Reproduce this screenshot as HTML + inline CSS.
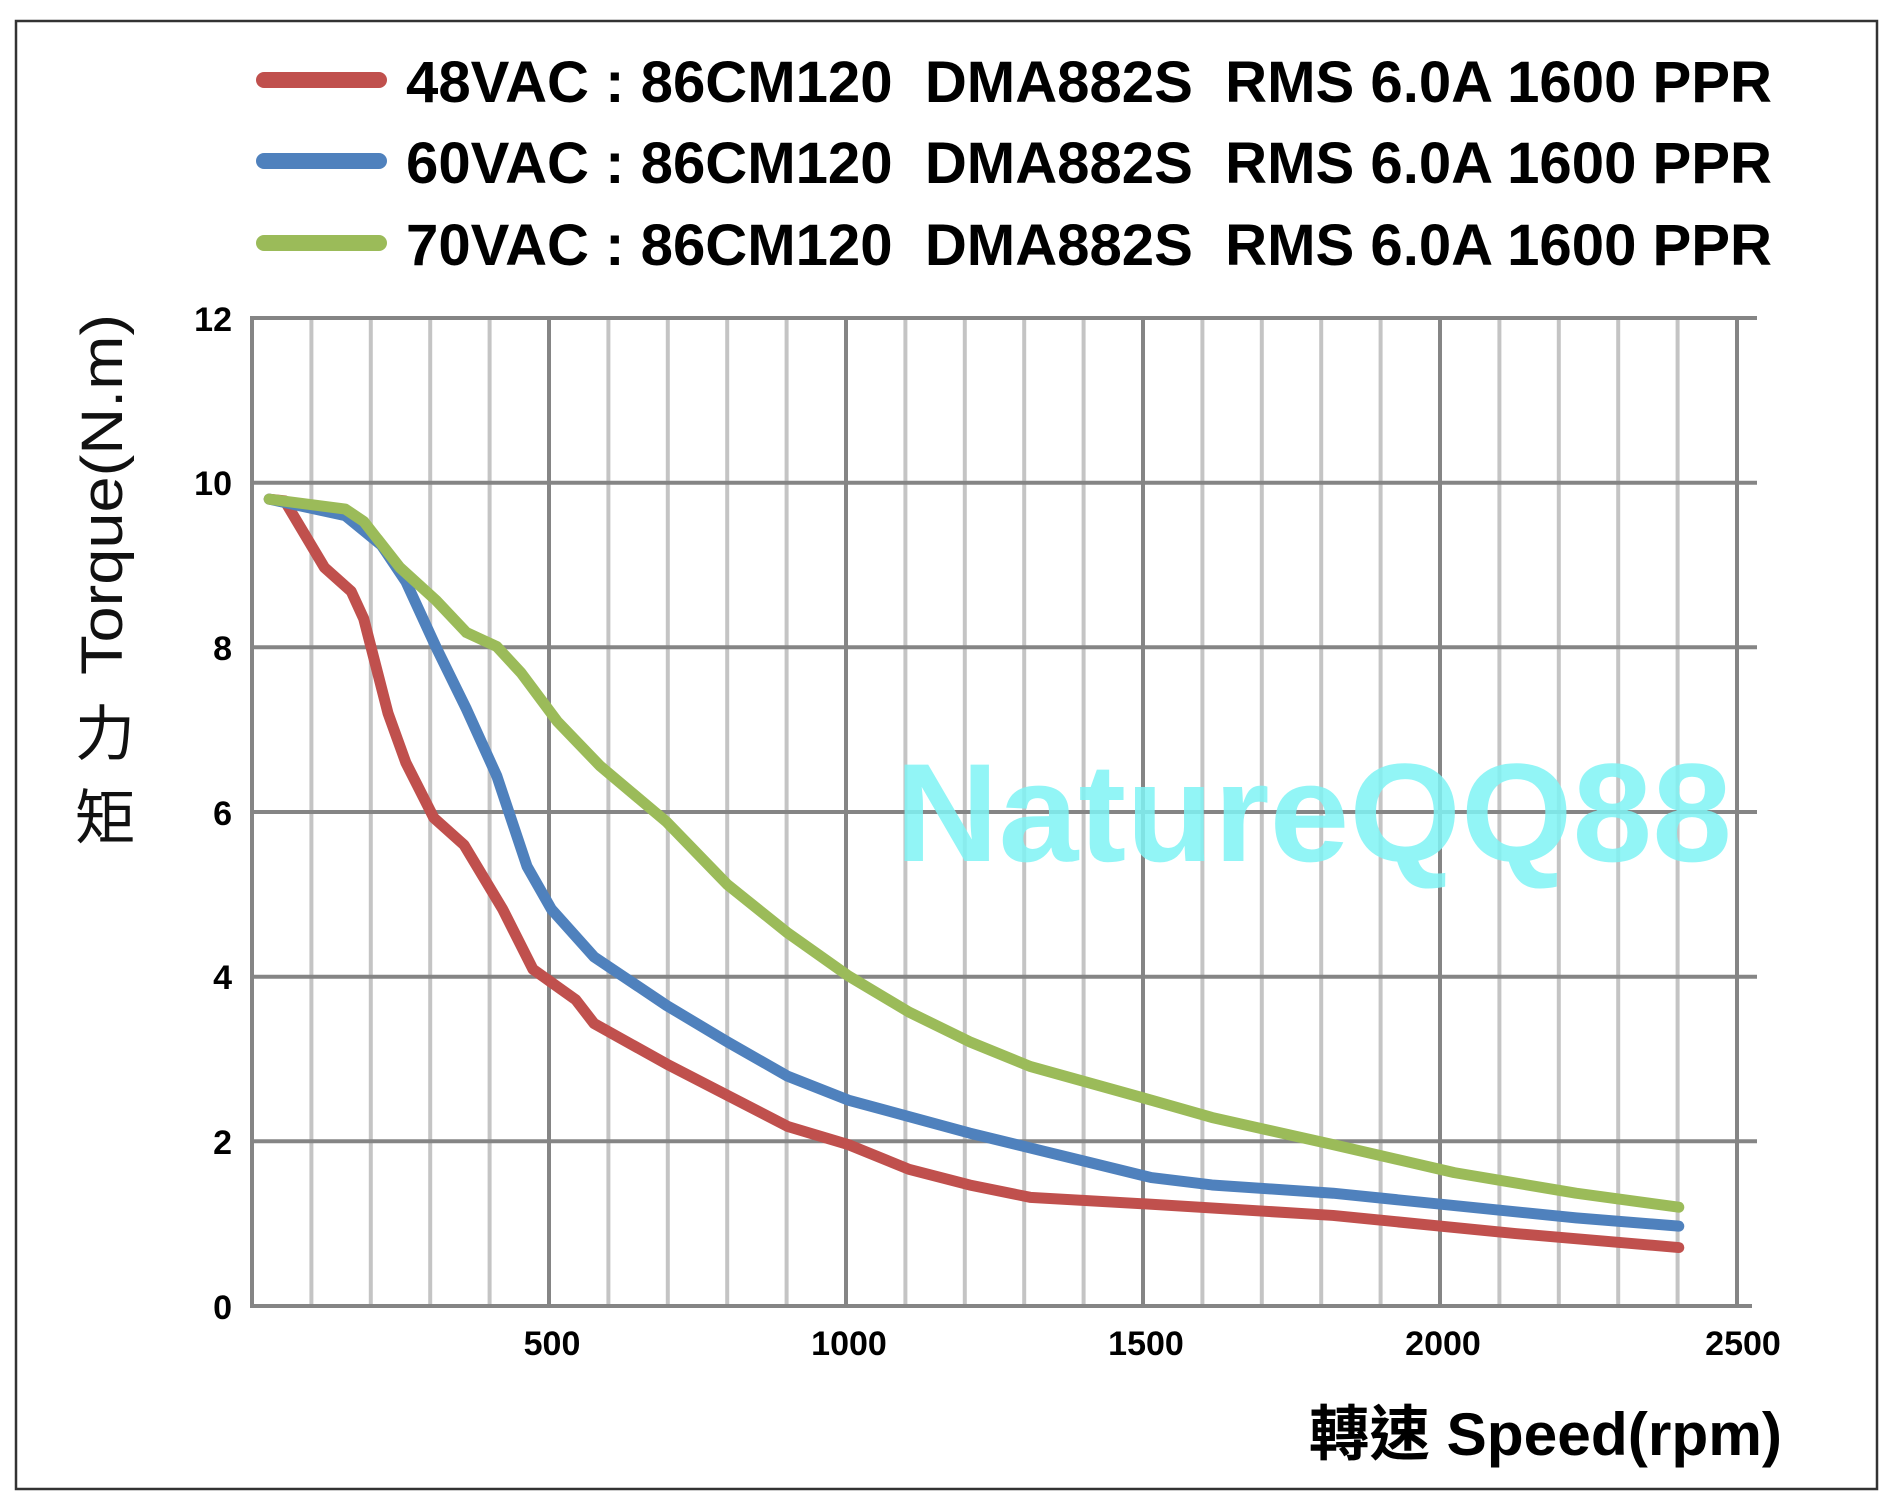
<!DOCTYPE html>
<html><head><meta charset="utf-8"><style>
html,body{margin:0;padding:0;background:#fff;}
svg{display:block;}
text{font-family:"Liberation Sans","Noto Sans CJK TC",sans-serif;}
</style></head><body>
<svg width="1900" height="1510" viewBox="0 0 1900 1510" xmlns="http://www.w3.org/2000/svg">
<rect x="0" y="0" width="1900" height="1510" fill="#fff"/>
<rect x="16" y="21" width="1861" height="1468" fill="none" stroke="#333" stroke-width="2.5"/>

<g stroke="#c4c4c4" stroke-width="4">
<line x1="311.4" y1="318" x2="311.4" y2="1306"/><line x1="370.8" y1="318" x2="370.8" y2="1306"/><line x1="430.2" y1="318" x2="430.2" y2="1306"/><line x1="489.6" y1="318" x2="489.6" y2="1306"/>
<line x1="608.4" y1="318" x2="608.4" y2="1306"/><line x1="667.8" y1="318" x2="667.8" y2="1306"/><line x1="727.2" y1="318" x2="727.2" y2="1306"/><line x1="786.6" y1="318" x2="786.6" y2="1306"/>
<line x1="905.4" y1="318" x2="905.4" y2="1306"/><line x1="964.8" y1="318" x2="964.8" y2="1306"/><line x1="1024.2" y1="318" x2="1024.2" y2="1306"/><line x1="1083.6" y1="318" x2="1083.6" y2="1306"/>
<line x1="1202.4" y1="318" x2="1202.4" y2="1306"/><line x1="1261.8" y1="318" x2="1261.8" y2="1306"/><line x1="1321.2" y1="318" x2="1321.2" y2="1306"/><line x1="1380.6" y1="318" x2="1380.6" y2="1306"/>
<line x1="1499.4" y1="318" x2="1499.4" y2="1306"/><line x1="1558.8" y1="318" x2="1558.8" y2="1306"/><line x1="1618.2" y1="318" x2="1618.2" y2="1306"/><line x1="1677.6" y1="318" x2="1677.6" y2="1306"/>
</g>
<g stroke="#858585" stroke-width="4">
<line x1="252" y1="318" x2="252" y2="1306"/><line x1="549" y1="318" x2="549" y2="1306"/><line x1="846" y1="318" x2="846" y2="1306"/><line x1="1143" y1="318" x2="1143" y2="1306"/><line x1="1440" y1="318" x2="1440" y2="1306"/><line x1="1737" y1="318" x2="1737" y2="1306"/>
</g>
<g stroke="#858585" stroke-width="4">
<line x1="250" y1="318" x2="1757" y2="318"/><line x1="250" y1="482.7" x2="1757" y2="482.7"/><line x1="250" y1="647.3" x2="1757" y2="647.3"/><line x1="250" y1="812" x2="1757" y2="812"/><line x1="250" y1="976.7" x2="1757" y2="976.7"/><line x1="250" y1="1141.3" x2="1757" y2="1141.3"/><line x1="250" y1="1306" x2="1752" y2="1306"/>
</g>

<text x="895" y="861" font-size="140" font-weight="bold" fill="#7ff3f5" fill-opacity="0.85" textLength="837" lengthAdjust="spacingAndGlyphs">NatureQQ88</text>

<g transform="translate(252,1306) scale(0.594,-82.33)" fill="none" stroke-linejoin="round" stroke-linecap="round">
<polyline vector-effect="non-scaling-stroke" stroke="#c0504d" stroke-width="11" points="29,9.8 55,9.78 122,8.97 167,8.68 188,8.35 229,7.2 259,6.6 306,5.93 357,5.6 422,4.82 473,4.09 545,3.72 576,3.43 698,2.94 902,2.18 1004,1.96 1106,1.66 1208,1.47 1310,1.32 1504,1.24 1820,1.1 2127,0.88 2402,0.71"/>
<polyline vector-effect="non-scaling-stroke" stroke="#4f81bd" stroke-width="11" points="29,9.8 157,9.6 218,9.24 259,8.8 310,8.0 361,7.25 412,6.44 463,5.34 504,4.82 576,4.24 698,3.65 800,3.21 902,2.79 1004,2.5 1208,2.1 1412,1.74 1514,1.56 1616,1.47 1820,1.37 2024,1.22 2229,1.07 2402,0.97"/>
<polyline vector-effect="non-scaling-stroke" stroke="#9bbb59" stroke-width="11" points="29,9.8 157,9.68 188,9.53 249,8.97 310,8.57 361,8.18 412,8.01 453,7.69 514,7.1 586,6.56 698,5.88 800,5.12 902,4.53 1004,4.01 1106,3.57 1208,3.21 1310,2.91 1514,2.5 1616,2.29 1820,1.96 2024,1.62 2229,1.37 2402,1.2"/>
</g>

<g font-size="34" font-weight="bold" text-anchor="end" fill="#000">
<text x="232" y="331">12</text><text x="232" y="495">10</text><text x="232" y="660">8</text><text x="232" y="825">6</text><text x="232" y="989">4</text><text x="232" y="1154">2</text><text x="232" y="1319">0</text>
</g>
<g font-size="34" font-weight="bold" text-anchor="middle" fill="#000">
<text x="552" y="1355">500</text><text x="849" y="1355">1000</text><text x="1146" y="1355">1500</text><text x="1443" y="1355">2000</text><text x="1743" y="1355">2500</text>
</g>

<text transform="translate(122,675) rotate(-90)" font-size="58" textLength="361" lengthAdjust="spacingAndGlyphs" fill="#111">Torque(N.m)</text>
<text x="75" y="755" font-size="60" fill="#111" font-family="Noto Sans CJK TC, sans-serif">力</text>
<text x="75" y="839" font-size="60" fill="#111" font-family="Noto Sans CJK TC, sans-serif">矩</text>

<text x="1309" y="1455" font-size="60" font-weight="bold" fill="#000" textLength="473" lengthAdjust="spacingAndGlyphs">轉速 Speed(rpm)</text>

<g stroke-linecap="round" stroke-width="16">
<line x1="264" y1="80" x2="379" y2="80" stroke="#c0504d"/>
<line x1="264" y1="161" x2="379" y2="161" stroke="#4f81bd"/>
<line x1="264" y1="243" x2="379" y2="243" stroke="#9bbb59"/>
</g>
<g font-size="58" font-weight="bold" fill="#000">
<text x="406" y="102" textLength="1366" lengthAdjust="spacingAndGlyphs">48VAC : 86CM120&#160; DMA882S&#160; RMS 6.0A 1600 PPR</text>
<text x="406" y="183" textLength="1366" lengthAdjust="spacingAndGlyphs">60VAC : 86CM120&#160; DMA882S&#160; RMS 6.0A 1600 PPR</text>
<text x="406" y="265" textLength="1366" lengthAdjust="spacingAndGlyphs">70VAC : 86CM120&#160; DMA882S&#160; RMS 6.0A 1600 PPR</text>
</g>
</svg>
</body></html>
